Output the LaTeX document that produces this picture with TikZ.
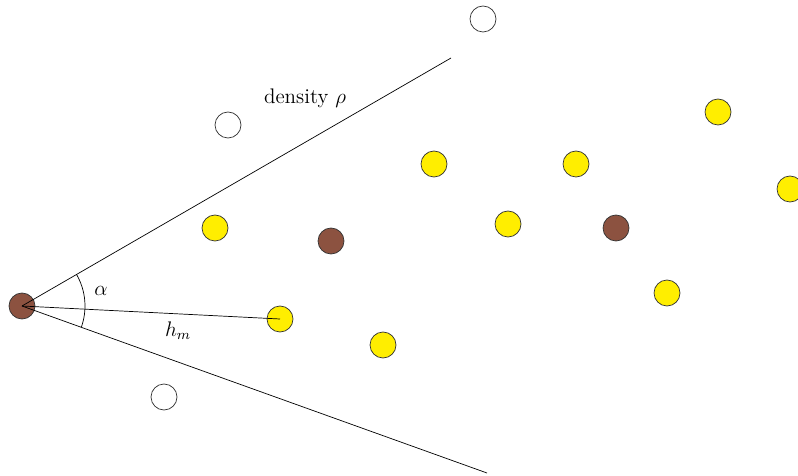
\documentclass[tikz,border=0pt]{standalone}
\usepackage{amsmath,amssymb}
\usepackage{xcolor}
\usepackage{tikz}
\usetikzlibrary{calc}

\definecolor{brownpt}{RGB}{140,82,64}
\definecolor{yellowpt}{RGB}{255,238,0}

\begin{document}
\begin{tikzpicture}[
  x=0.02cm, y=-0.02cm,
  pt/.style={circle, draw=black!80, minimum size=0.52cm, inner sep=0pt},
  emptypt/.style={pt, fill=white},
  nbpt/.style={pt, fill=yellowpt},
  srcpt/.style={pt, fill=brownpt},
  lab/.style={font=\large}
]
\useasboundingbox (0,0) rectangle (798,476);
% particles
\node[srcpt] (o) at (22,306) {};
\node[srcpt] (b1) at (331,241) {};
\node[srcpt] (b2) at (616,228) {};
\node[emptypt] (w1) at (483,19) {};
\node[emptypt] (w2) at (228,125) {};
\node[emptypt] (w3) at (164,397) {};
\foreach \n/\p in {y1/{215,228},y2/{434,164},y3/{576,164},y4/{718,112},y5/{790,189},y6/{508,224},y7/{280,319},y8/{383,345},y9/{667,293}}
  \node[nbpt] (\n) at (\p) {};
% cone
\coordinate (up) at (451,58);
\coordinate (lo) at (487,473);
\draw (o.center) -- (up);
\draw (o.center) -- (lo);
\draw (o.center) -- (y7.center);
\draw (o.center) ++(-30.0:63) arc (-30.0:19.75:63);
% labels
\node[lab] (alpha) at (101,291) {$\alpha$};
\node[lab] (hm) at (178,331) {$h_m$};
\node[lab] (rho) at (305,98) {density $\rho$};
\end{tikzpicture}
\end{document}
